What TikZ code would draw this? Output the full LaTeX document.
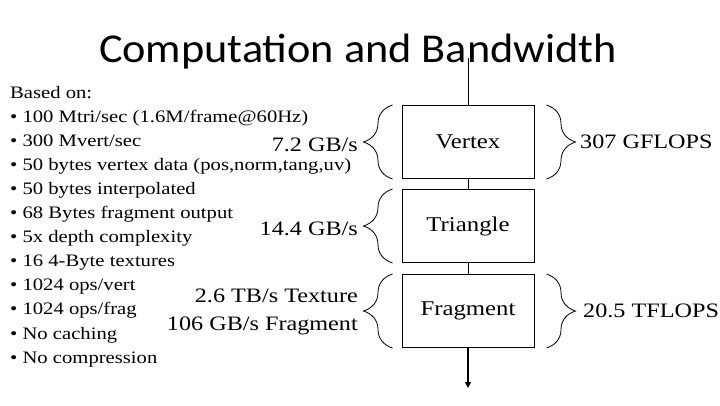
\documentclass[tikz,border=0pt]{standalone}
\usepackage{fontspec}
\setmainfont[FakeStretch=1.18]{Liberation Serif}
\newfontfamily\titlefont[FakeStretch=1.08]{Carlito}
\usetikzlibrary{positioning,decorations.pathreplacing,arrows.meta}

\begin{document}
\begin{tikzpicture}[x=1pt,y=-1pt,
    stage/.style={rectangle, draw, line width=1pt, minimum width=132pt, minimum height=73pt, font=\fontsize{21}{24}\selectfont},
    rate/.style={anchor=east, inner sep=0pt, align=right, font=\fontsize{20.5}{28}\selectfont},
    flops/.style={anchor=west, inner sep=0pt, font=\fontsize{20.5}{24}\selectfont},
    cbrace/.style={decorate, decoration={brace, amplitude=29pt}, line width=0.8pt}]
    \useasboundingbox (0,0) rectangle (720,405);
    \node[anchor=base, font=\titlefont\fontsize{41}{48}\selectfont] (title) at (358,62) {Computation and Bandwidth};
    % assumptions
    \foreach \item [count=\i] in {Based on:, {• 100 Mtri/sec (1.6M/frame@60Hz)}, {• 300 Mvert/sec},
        {• 50 bytes vertex data (pos,norm,tang,uv)}, {• 50 bytes interpolated}, {• 68 Bytes fragment output},
        {• 5x depth complexity}, {• 16 4-Byte textures}, {• 1024 ops/vert}, {• 1024 ops/frag},
        {• No caching}, {• No compression}}
        \node[anchor=base west, inner sep=0pt, font=\fontsize{17.5}{20}\selectfont] (item\i) at (10,{98+24.1*(\i-1)}) {\item};
    % pipeline
    \coordinate (top) at (468,58);
    \node[stage] (vertex) at (468,142) {Vertex};
    \node[stage] (triangle) at (468,226) {Triangle};
    \node[stage] (fragment) at (468,311) {Fragment};
    \coordinate (out) at (468,388);
    \draw[line width=1pt] (top) -- (vertex);
    \draw[line width=1pt] (vertex) -- (triangle);
    \draw[line width=1pt] (triangle) -- (fragment);
    \draw[-{Triangle[length=6pt,width=6pt]}, line width=2pt] (fragment) -- (out);
    % bandwidth
    \draw[cbrace] ([xshift=-9pt]vertex.south west) -- ([xshift=-9pt]vertex.north west);
    \draw[cbrace] ([xshift=-9pt]triangle.south west) -- ([xshift=-9pt]triangle.north west);
    \draw[cbrace] ([xshift=-9pt]fragment.south west) -- ([xshift=-9pt]fragment.north west);
    \node[rate] (vrate) at (358,145) {7.2 GB/s};
    \node[rate] (trate) at (358,229) {14.4 GB/s};
    \node[rate] (frate) at (358,312) {2.6 TB/s Texture\\106 GB/s Fragment};
    % compute
    \draw[cbrace] ([xshift=12pt]vertex.north east) -- ([xshift=12pt]vertex.south east);
    \draw[cbrace] ([xshift=12pt]fragment.north east) -- ([xshift=12pt]fragment.south east);
    \node[flops] (vflops) at (580,142) {307 GFLOPS};
    \node[flops] (fflops) at (583,311) {20.5 TFLOPS};
\end{tikzpicture}
\end{document}
